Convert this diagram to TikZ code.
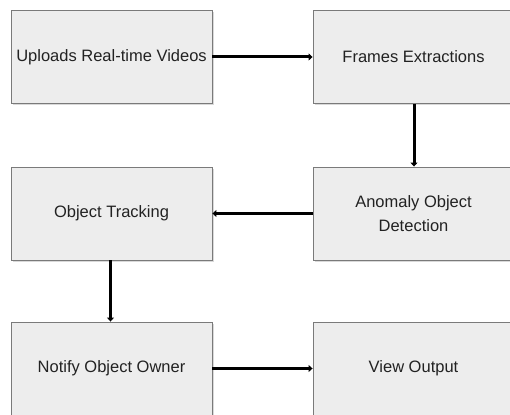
\documentclass[tikz,border=0pt]{standalone}
\usepackage{fontspec}
\setmainfont{Liberation Sans}
\usetikzlibrary{arrows.meta,shadows}
\definecolor{boxfill}{HTML}{EDEDED}
\definecolor{boxline}{HTML}{7A7A7A}
\definecolor{boxtext}{HTML}{222222}
\tikzset{
  stepbox/.style={draw=boxline, line width=0.9pt, fill=boxfill,
    minimum width=201pt, minimum height=93pt, inner sep=2pt,
    align=center, text=boxtext, font=\fontsize{16.5}{24}\selectfont,
    drop shadow={shadow xshift=1.6pt, shadow yshift=-1.6pt,
      fill=black!25, opacity=0.6}},
  flow/.style={line width=3pt,
    -{Triangle[length=4pt,width=7pt]}}
}
\begin{document}
\begin{tikzpicture}[x=1pt,y=1pt]
  \useasboundingbox (0,0) rectangle (510,414);
  \clip (0,0) rectangle (510,414);
  \node[stepbox] (upload) at (111.5,357) {Uploads Real-time Videos};
  \node[stepbox] (frames) at (413.5,357) {Frames Extractions};
  \node[stepbox] (anomaly) at (413.5,200.5) {Anomaly Object\\Detection};
  \node[stepbox] (track) at (111.5,200.5) {Object Tracking};
  \node[stepbox] (notify) at (111.5,45.5) {Notify Object Owner};
  \node[stepbox] (view) at (413.5,45.5) {View Output};
  \draw[flow] (upload.east) -- (frames.west);
  \draw[flow] (frames.south -| 414,0) -- (anomaly.north -| 414,0);
  \draw[flow] (anomaly.west) -- (track.east);
  \draw[flow] (track.south -| 110.5,0) -- (notify.north -| 110.5,0);
  \draw[flow] (notify.east) -- (view.west);
\end{tikzpicture}
\end{document}
